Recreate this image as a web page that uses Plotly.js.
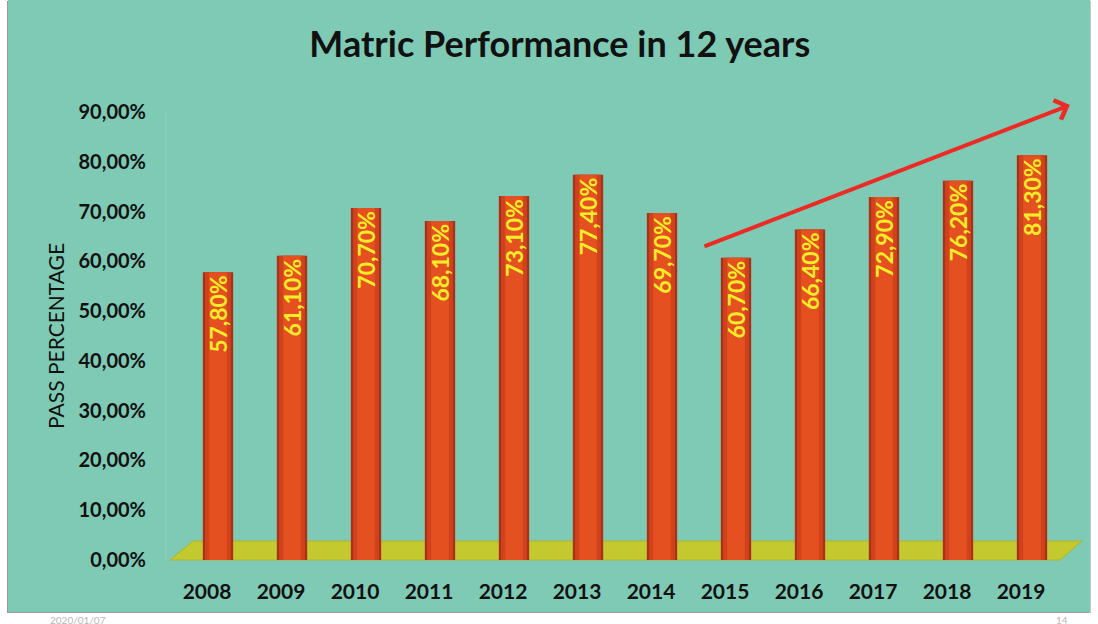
<!DOCTYPE html>
<html>
<head>
<meta charset="utf-8">
<script src="https://cdn.plot.ly/plotly-3.0.1.min.js"></script>
<style>
  html, body { margin: 0; padding: 0; background: #ffffff; width: 1098px; height: 624px; overflow: hidden; }
  #chart { position: absolute; left: 8px; top: 0px; width: 1082px; height: 612px;
           box-shadow: -1px 1px 0 #9a9a9a, 1px 1px 0 #c8c8c8; }
  .foot { position: absolute; font-family: 'Lato', sans-serif; font-size: 10px; color: #b8b8b8; }
</style>
</head>
<body>
<div id="chart"></div>
<div class="foot" style="left:50px; top:614px;">2020/01/07</div>
<div class="foot" style="left:1056px; top:614px;">14</div>
<script>
// Data
const years = ['2008', '2009', '2010', '2011', '2012', '2013', '2014', '2015', '2016', '2017', '2018', '2019'];
const passRates = [57.8, 61.1, 70.7, 68.1, 73.1, 77.4, 69.7, 60.7, 66.4, 72.9, 76.2, 81.3];
const yTicks = [0, 10, 20, 30, 40, 50, 60, 70, 80, 90];
const yTickText = yTicks.map(v => v.toFixed(2).replace('.', ',') + '%');

const chartTitle = 'Matric Performance in 12 years';
const yTitle = 'PASS PERCENTAGE';

const FONT = 'Lato, "Open Sans", sans-serif';

// cylinder-like shading: stacked (overlaid) bars of decreasing width
const outer = {
  type: 'bar', x: years, y: passRates, width: 0.41,
  marker: { color: '#A93019', line: { width: 0 } },
  hoverinfo: 'skip'
};
const middle = {
  type: 'bar', x: years, y: passRates, width: 0.35,
  marker: { color: '#CF421C', line: { width: 0 } },
  hoverinfo: 'skip'
};
const inner = {
  type: 'bar', x: years, y: passRates, width: 0.24,
  marker: { color: '#E4501F', line: { width: 0 } },
  texttemplate: '%{y:.2f}%',
  textposition: 'inside',
  insidetextanchor: 'end',
  textangle: -90,
  constraintext: 'none',
  textfont: { family: FONT, size: 23, color: '#F7EC2A', weight: 'bold' },
  hoverinfo: 'skip'
};

const layout = {
  width: 1082,
  height: 612,
  paper_bgcolor: '#7ECAB5',
  plot_bgcolor: 'rgba(0,0,0,0)',
  margin: { l: 173, r: 21, t: 112, b: 52 },
  separators: ',.',
  barmode: 'overlay',
  showlegend: false,
  title: {
    text: chartTitle,
    font: { family: FONT, size: 36, color: '#111111', weight: 'bold' },
    x: 0.51, xanchor: 'center',
    y: 0.927, yanchor: 'middle'
  },
  xaxis: {
    type: 'category',
    showgrid: false,
    zeroline: false,
    showline: false,
    ticks: '',
    tickfont: { family: FONT, size: 21, color: '#111111', weight: 'bold' },
    ticklabelstandoff: 17,
    ticklabelshift: -11
  },
  yaxis: {
    range: [0, 90],
    tickvals: yTicks,
    ticktext: yTickText,
    showgrid: false,
    zeroline: false,
    showline: false,
    ticks: '',
    tickfont: { family: FONT, size: 20, color: '#111111', weight: 'bold' },
    ticklabelstandoff: 34,
    title: {
      text: yTitle,
      font: { family: FONT, size: 21, color: '#111111' },
      standoff: 8
    }
  },
  shapes: [
    {
      type: 'path', xref: 'paper', yref: 'paper', layer: 'below',
      path: 'M -0.0124 0 L 0.990 0 L 1.0146 0.0424 L 0.0135 0.0424 Z',
      fillcolor: '#C3C92E', line: { color: '#AEB42A', width: 1 }
    },
    {
      type: 'line', xref: 'paper', yref: 'paper', layer: 'below',
      x0: -0.017, x1: -0.017, y0: 0, y1: 1,
      line: { color: '#8fd2bf', width: 1 }
    }
  ],
  annotations: [
    {
      xref: 'paper', yref: 'paper',
      x: 1.001, y: 1.0156,
      axref: 'pixel', ayref: 'pixel',
      ax: -367, ay: 142,
      showarrow: true,
      arrowhead: 4,
      arrowsize: 1,
      arrowwidth: 4,
      arrowcolor: '#EE2A24',
      text: ''
    }
  ]
};

Plotly.newPlot('chart', [outer, middle, inner], layout, { displayModeBar: false, staticPlot: true });
</script>
</body>
</html>
